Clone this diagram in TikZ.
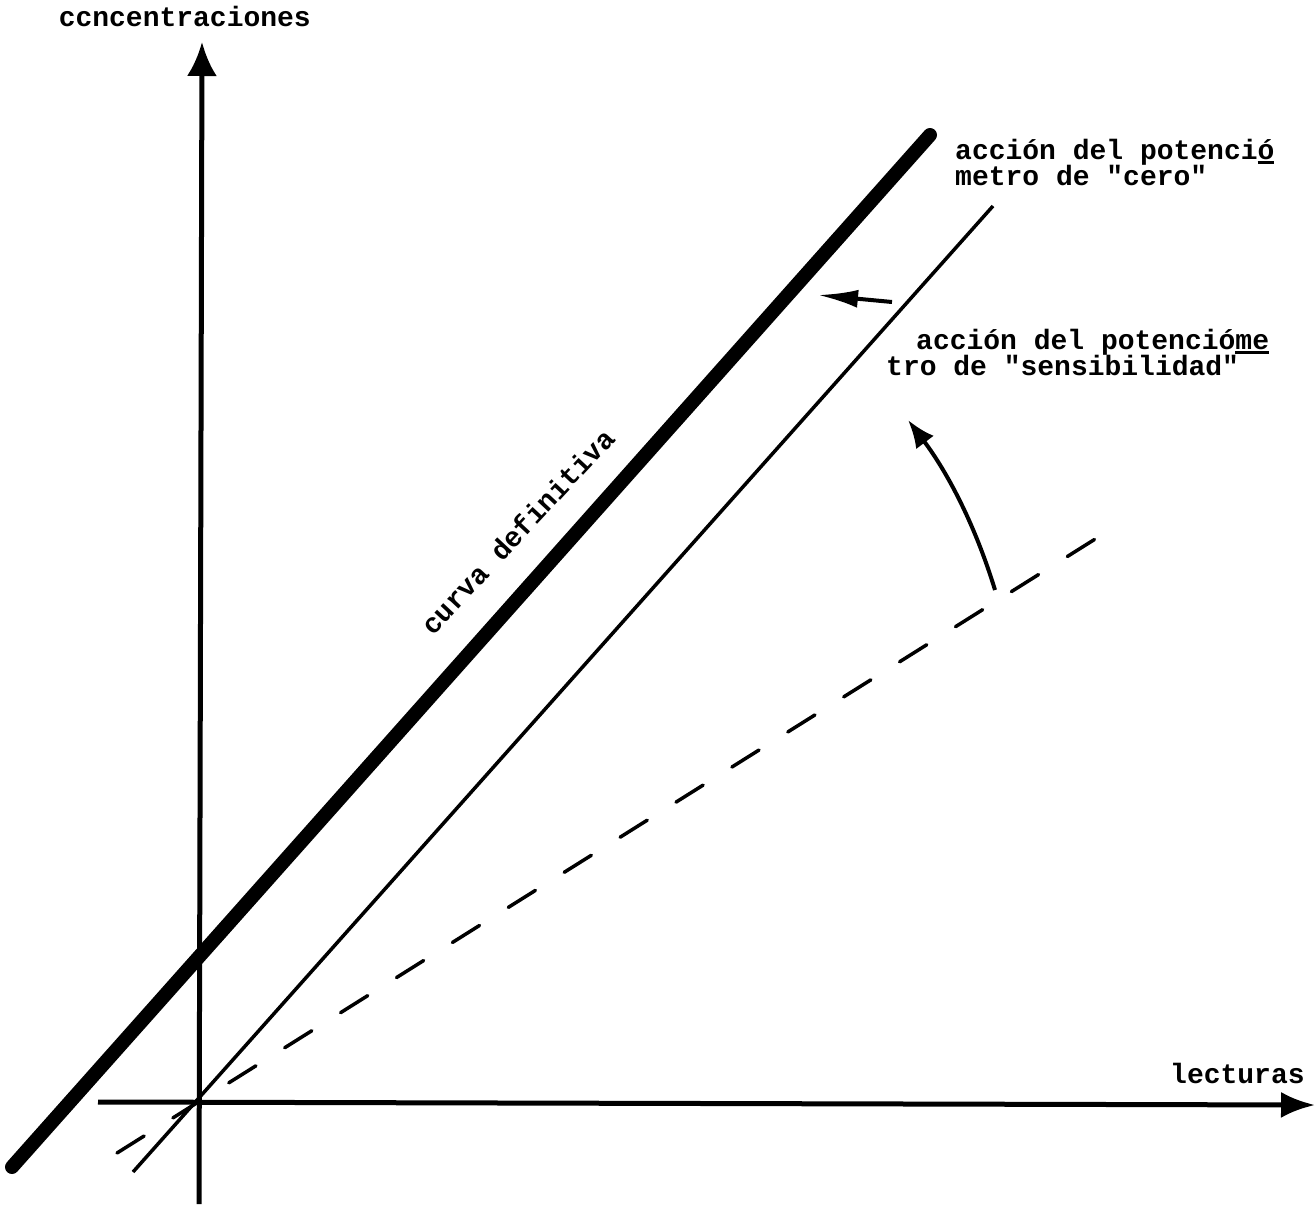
\documentclass[tikz,border=0pt]{standalone}
\usepackage{fontspec}
\newfontfamily\tw{Liberation Mono}[Ligatures=TeXOff]
\usetikzlibrary{arrows.meta}
\newcommand\myul[1]{\setbox0\hbox{#1}\rlap{\rule[-5pt]{\wd0}{3pt}}\box0}
\begin{document}
\begin{tikzpicture}[x=1pt,y=-1pt,
  lbl/.style={font={\tw\bfseries\fontsize{28}{26}\selectfont}, inner sep=0pt},
  axisline/.style={line width=5pt},
  thickcurve/.style={line width=14pt, line cap=round},
  thincurve/.style={line width=3.5pt},
  dashcurve/.style={line width=3.5pt, dash pattern=on 32pt off 34pt, line cap=round},
  smallarrow/.style={line width=4pt}]
\useasboundingbox (0,0) rectangle (1316,1204);
% coordinates
\coordinate (vb) at (199,1204);
\coordinate (vt) at (202,42);
\coordinate (hl) at (98,1102);
\coordinate (hr) at (1315,1105);
\coordinate (ta) at (12,1167);
\coordinate (tb) at (930,135);
\coordinate (na) at (133,1172);
\coordinate (nb) at (993,206);
\coordinate (da) at (117,1153);
\coordinate (db) at (1100,536);
\coordinate (sa) at (892,302);
\coordinate (sb) at (818,295);
\coordinate (ca) at (995,590);
\coordinate (cb) at (908,420);
% axes
\draw[axisline, -{Latex[length=34pt,width=30pt]}] (vb) -- (vt);
\draw[axisline, -{Latex[length=34pt,width=26pt]}] (hl) -- (hr);
% lines
\draw[thickcurve] (ta) -- (tb);
\draw[thincurve] (na) -- (nb);
\draw[dashcurve] (da) -- (db);
% small arrows
\draw[smallarrow, -{Latex[length=40pt,width=18pt]}] (sa) -- (sb);
\draw[smallarrow, -{Latex[length=28pt,width=22pt]}] (ca) .. controls (972,515) and (942,465) .. (cb);
% labels
\node[lbl, anchor=base east] (ylab) at (311,27) {ccncentraciones};
\node[lbl, anchor=base west] (z1) at (955,159) {acción del potenci\myul{ó}};
\node[lbl, anchor=base west] (z2) at (955,185) {metro de "cero"};
\node[lbl, anchor=base west] (s1) at (916,349) {acción del potenció\myul{me}};
\node[lbl, anchor=base west] (s2) at (886,375) {tro de "sensibilidad"};
\node[lbl, anchor=base west] (xlab) at (1170,1083) {lecturas};
\node[lbl, anchor=base, rotate=47] (cdef) at (525,538) {curva definitiva};
\end{tikzpicture}
\end{document}
